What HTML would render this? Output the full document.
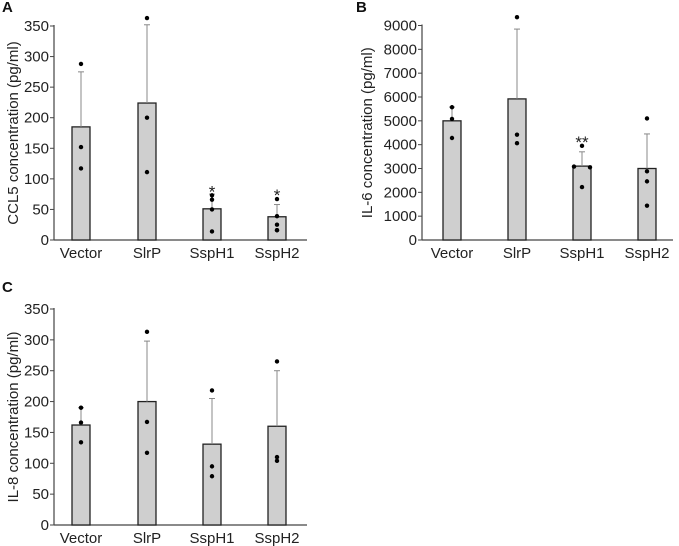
<!DOCTYPE html>
<html><head><meta charset="utf-8"><style>
body{margin:0;background:#fff;}
svg{display:block;font-family:"Liberation Sans",Arial,sans-serif;}
</style></head><body>
<svg id="fig" width="679" height="546" viewBox="0 0 679 546"></svg>
<script>
const categories=["Vector","SlrP","SspH1","SspH2"];
const ccl5Means=[185,224,51,38];
const ccl5ErrTop=[275,352,75,58];
const ccl5Points=[[288,152,117],[363,200,111],[73,66,50,14],[67,39,25,16,16]];
const ccl5Ticks=[0,50,100,150,200,250,300,350];
const ccl5Sig=["","","*","*"];
const il6Means=[5000,5920,3100,3000];
const il6ErrTop=[5580,8850,3700,4450];
const il6Points=[[5570,5080,4280],[9350,4420,4060],[3950,3080,3050,2220],[5100,2880,2460,1440]];
const il6Ticks=[0,1000,2000,3000,4000,5000,6000,7000,8000,9000];
const il6Sig=["","","**",""];
const il8Means=[162,200,131,160];
const il8ErrTop=[190,298,205,250];
const il8Points=[[190,166,134],[313,167,117],[218,95,79],[265,110,104]];
const il8Ticks=[0,50,100,150,200,250,300,350];
const il8Sig=["","","",""];

const NS="http://www.w3.org/2000/svg";
const svg=document.getElementById('fig');
function mk(tag,attrs,parent,text){const e=document.createElementNS(NS,tag);for(const k in attrs)e.setAttribute(k,attrs[k]);if(text!==undefined)e.textContent=text;(parent||svg).appendChild(e);return e;}

function panel(cfg){
  const g=mk('g',{});
  
  
  const maxV=cfg.ticks[cfg.ticks.length-1];
  const y=v=>cfg.y0-(v/maxV)*(cfg.y0-cfg.yTop);
  const xs=cfg.xs;
  const lbl=mk('text',{x:cfg.labelX,y:cfg.labelY,'font-size':15,'font-weight':'bold',fill:'#111'},g,cfg.letter);
  
  
  const ya=mk('line',{x1:cfg.ax,x2:cfg.ax,y1:y(maxV)-1,y2:cfg.y0,stroke:'#444','stroke-width':1.2},g);
  
  
  const xa=mk('line',{x1:cfg.ax,x2:cfg.axEnd,y1:cfg.y0,y2:cfg.y0,stroke:'#444','stroke-width':1.2},g);
  
  
  cfg.ticks.forEach(t=>{
    mk('line',{x1:cfg.ax-4,x2:cfg.ax,y1:y(t),y2:y(t),stroke:'#444','stroke-width':1},g);
    const tl=mk('text',{x:cfg.ax-5,y:y(t)+5,'font-size':15,'text-anchor':'end',fill:'#222'},g,String(t));
    
    
  });
  const ttl=mk('text',{x:0,y:0,'font-size':15,'text-anchor':'middle',fill:'#222',transform:`translate(${cfg.titleX},${(cfg.y0+y(maxV))/2}) rotate(-90)`},g,cfg.title);
  
  
  categories.forEach((c,i)=>{
    const cx=xs[i];
    const bw=18;
    const bar=mk('rect',{x:cx-bw/2,y:y(cfg.means[i]),width:bw,height:cfg.y0-y(cfg.means[i]),fill:'#cfcfcf',stroke:'#222','stroke-width':1.3},g);
    
    
    const eb=mk('line',{x1:cx,x2:cx,y1:y(cfg.errTop[i]),y2:y(cfg.means[i]),stroke:'#888','stroke-width':1},g);
    
    
    mk('line',{x1:cx-3,x2:cx+3,y1:y(cfg.errTop[i]),y2:y(cfg.errTop[i]),stroke:'#888','stroke-width':1},g);
    const pts=cfg.points[i];
    pts.forEach((p,j)=>{
      let dx=0;
      if(cfg.spreadIdx===i&&(j===1||j===2))dx=(j===1?-8:8);
      const d=mk('circle',{cx:cx+dx,cy:y(p),r:2.2,fill:'#000'},g);
      
      
    });
    if(cfg.sig[i]){
      const s=mk('text',{x:cx,y:y(Math.max(...pts))+2,'font-size':17,'text-anchor':'middle',fill:'#222'},g,cfg.sig[i]);
      
      
    }
    const cl=mk('text',{x:cx,y:cfg.y0+18,'font-size':15,'text-anchor':'middle',fill:'#222'},g,c);
    
    
  });
}
panel({name:'panel-a-ccl5',letter:'A',labelX:2,labelY:12,ax:54,axEnd:307,y0:240,yTop:26,xs:[81,147,212,277],titleX:18,title:'CCL5 concentration (pg/ml)',ticks:ccl5Ticks,means:ccl5Means,errTop:ccl5ErrTop,points:ccl5Points,sig:ccl5Sig,spreadIdx:-1});
panel({name:'panel-b-il6',letter:'B',labelX:356,labelY:12,ax:422,axEnd:673,y0:240,yTop:25.5,xs:[452,517,582,647],titleX:372,title:'IL-6 concentration (pg/ml)',ticks:il6Ticks,means:il6Means,errTop:il6ErrTop,points:il6Points,sig:il6Sig,spreadIdx:2});
panel({name:'panel-c-il8',letter:'C',labelX:2,labelY:292,ax:54,axEnd:307,y0:525,yTop:309,xs:[81,147,212,277],titleX:18,title:'IL-8 concentration (pg/ml)',ticks:il8Ticks,means:il8Means,errTop:il8ErrTop,points:il8Points,sig:il8Sig,spreadIdx:-1});
</script>
</body></html>
